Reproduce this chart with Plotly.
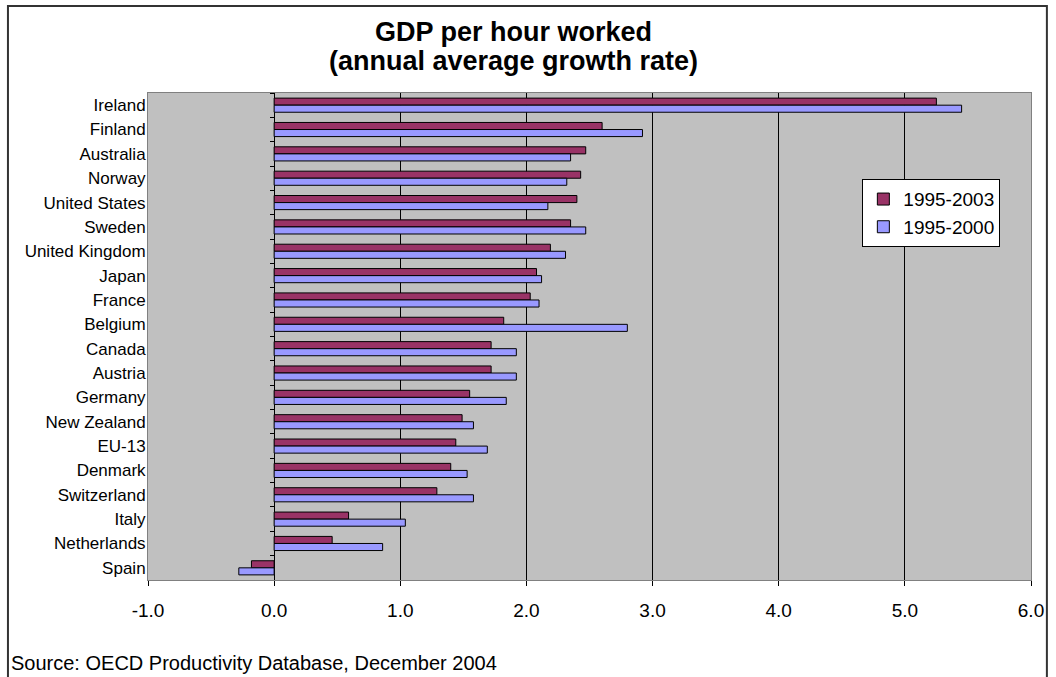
import plotly.graph_objects as go

countries = ["Ireland", "Finland", "Australia", "Norway", "United States", "Sweden",
             "United Kingdom", "Japan", "France", "Belgium", "Canada", "Austria",
             "Germany", "New Zealand", "EU-13", "Denmark", "Switzerland", "Italy",
             "Netherlands", "Spain"]
g_1995_2003 = [5.25, 2.60, 2.47, 2.43, 2.40, 2.35, 2.19, 2.08, 2.03, 1.82, 1.72, 1.72,
               1.55, 1.49, 1.44, 1.40, 1.29, 0.59, 0.46, -0.18]
g_1995_2000 = [5.45, 2.92, 2.35, 2.32, 2.17, 2.47, 2.31, 2.12, 2.10, 2.80, 1.92, 1.92,
               1.84, 1.58, 1.69, 1.53, 1.58, 1.04, 0.86, -0.28]
x_ticks = [-1, 0, 1, 2, 3, 4, 5, 6]
x_tick_labels = ["-1.0", "0.0", "1.0", "2.0", "3.0", "4.0", "5.0", "6.0"]

FONT = "Liberation Sans, Arial, sans-serif"
xmin, xmax = x_ticks[0], x_ticks[-1]

fig = go.Figure()
fig.add_trace(go.Bar(y=countries, x=g_1995_2003, orientation="h", name="1995-2003",
                     marker=dict(color="#993366", line=dict(color="black", width=1))))
fig.add_trace(go.Bar(y=countries, x=g_1995_2000, orientation="h", name="1995-2000",
                     marker=dict(color="#9999FF", line=dict(color="black", width=1))))
# invisible trace for the category tick axis at x=0
fig.add_trace(go.Bar(y=countries, x=[0]*len(countries), orientation="h", yaxis="y2",
                     showlegend=False, hoverinfo="skip", opacity=0))

fig.update_layout(
    width=1056, height=677,
    margin=dict(l=148, r=19, t=93, b=97),
    paper_bgcolor="white", plot_bgcolor="#C0C0C0",
    barmode="group", bargap=0.42, bargroupgap=0,
    font=dict(family=FONT, color="black", size=17),
    legend=dict(x=0.809, y=0.823, xanchor="left", yanchor="top",
                bgcolor="white", bordercolor="black", borderwidth=1,
                font=dict(family=FONT, size=19), traceorder="normal",
                itemwidth=30, tracegroupgap=0),
    xaxis=dict(range=[xmin, xmax], tickvals=x_ticks, ticktext=x_tick_labels,
               showgrid=True, gridcolor="black", gridwidth=1,
               zeroline=True, zerolinecolor="black", zerolinewidth=1,
               ticks="outside", ticklen=5, tickcolor="black",
               showline=True, linecolor="#808080", linewidth=1, mirror=True,
               tickfont=dict(family=FONT, size=19), ticklabelstandoff=8),
    yaxis=dict(categoryorder="array", categoryarray=countries, autorange="reversed",
               showgrid=False, zeroline=False, ticks="",
               showline=True, linecolor="#808080", linewidth=1, mirror=True,
               tickfont=dict(family=FONT, size=17), ticklabelstandoff=-2),
    yaxis2=dict(overlaying="y", matches="y", anchor="free",
                position=(0 - xmin) / (xmax - xmin), side="left",
                showticklabels=False, showgrid=False, zeroline=False,
                ticks="outside", ticklen=4, tickcolor="black", tickson="boundaries",
                showline=False),
    annotations=[
        dict(text="<b>GDP per hour worked</b>", xref="paper", yref="paper",
             x=0.414, y=1.125, xanchor="center", yanchor="middle", showarrow=False,
             font=dict(family=FONT, size=27)),
        dict(text="<b>(annual average growth rate)</b>", xref="paper", yref="paper",
             x=0.414, y=1.0657, xanchor="center", yanchor="middle", showarrow=False,
             font=dict(family=FONT, size=27)),
        dict(text="Source: OECD Productivity Database, December 2004",
             xref="paper", yref="paper", x=-0.157, y=-0.170,
             xanchor="left", yanchor="middle", showarrow=False,
             font=dict(family=FONT, size=20)),
    ],
    shapes=[dict(type="rect", xref="paper", yref="paper",
                 x0=-0.1586, x1=1.018, y0=-0.35, y1=1.1786,
                 line=dict(color="#333333", width=2), layer="below")],
)

fig.write_html("out.html")
